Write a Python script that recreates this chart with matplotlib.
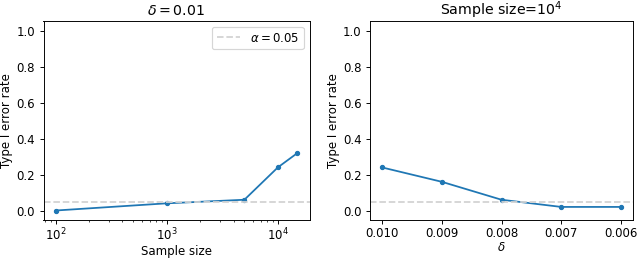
import matplotlib
matplotlib.use("Agg")
import matplotlib.pyplot as plt

# left panel: delta = 0.01
sample_sizes = [100, 1000, 5000, 10000, 15000]
err_by_size = [0.0, 0.04, 0.06, 0.24, 0.32]

# right panel: sample size = 1e4
deltas = [0.010, 0.009, 0.008, 0.007, 0.006]
err_by_delta = [0.24, 0.16, 0.06, 0.02, 0.02]

alpha = 0.05

plt.rcParams['font.size'] = 10
plt.rcParams['xtick.major.pad'] = 3

DPI = 85
fig = plt.figure(figsize=(640/DPI, 258/DPI), dpi=DPI)
ax1 = fig.add_axes([43.5/640, 1 - 219.5/258, 266/640, 198.5/258])
ax2 = fig.add_axes([370/640, 1 - 219.5/258, 263/640, 198.5/258])

ax1.plot(sample_sizes, err_by_size, 'o-', color='tab:blue', markersize=3.5)
ax1.axhline(alpha, color='lightgray', linestyle='--', label=r'$\alpha=0.05$')
ax1.set_xscale('log')
ax1.set_ylim(-0.05, 1.055)
ax1.set_xlabel('Sample size', labelpad=1)
ax1.set_ylabel('Type I error rate', labelpad=3)
ax1.set_title(r'$\delta=0.01$', pad=5)
ax1.legend(loc='upper right')

ax2.plot(deltas, err_by_delta, 'o-', color='tab:blue', markersize=3.5)
ax2.axhline(alpha, color='lightgray', linestyle='--')
ax2.invert_xaxis()
ax2.set_xticks(deltas)
ax2.set_xticklabels(['%.3f' % d for d in deltas])
ax2.set_ylim(-0.05, 1.055)
ax2.set_xlabel(r'$\delta$', labelpad=1)
ax2.set_ylabel('Type I error rate', labelpad=3)
ax2.set_title(r'Sample size=$10^4$', pad=5)

fig.savefig('out.png', dpi=DPI)
